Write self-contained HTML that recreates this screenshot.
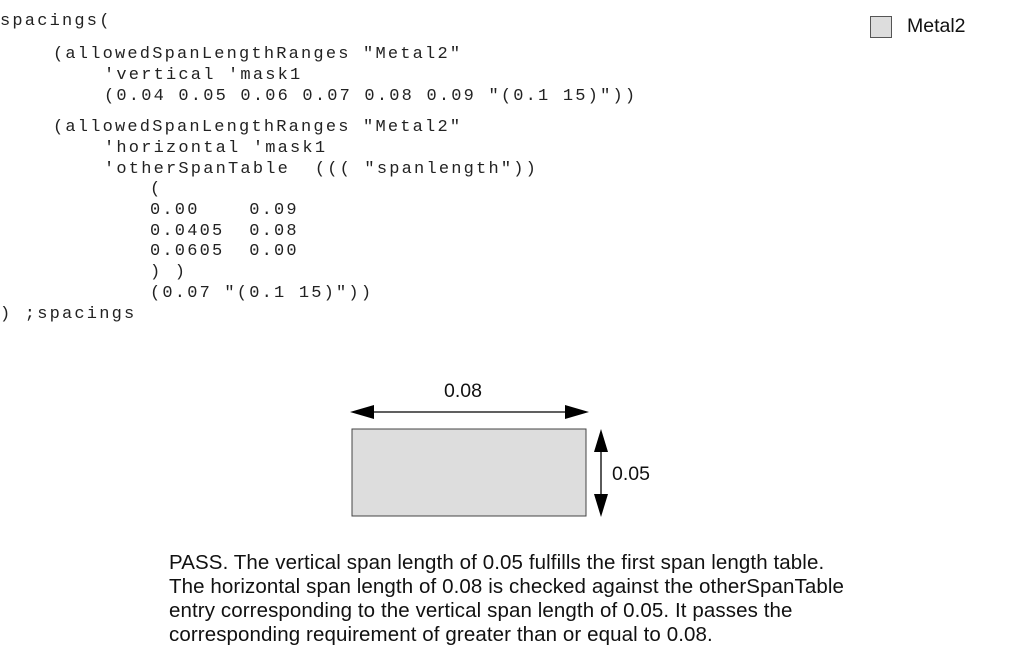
<!DOCTYPE html>
<html><head><style>
body{margin:0;width:1013px;height:664px;background:#fff;position:relative;overflow:hidden}
.c{position:absolute;font-family:"Liberation Mono",monospace;font-size:17px;letter-spacing:2.2px;white-space:pre;color:#222;line-height:20px}
.s{position:absolute;font-family:"Liberation Sans",sans-serif;color:#111;white-space:pre}
</style></head><body>
<div class="c" style="left:0;top:12px">spacings(</div>
<div class="c" style="left:53px;top:45px">(allowedSpanLengthRanges "Metal2"</div>
<div class="c" style="left:104px;top:66px">'vertical 'mask1</div>
<div class="c" style="left:104px;top:87px">(0.04 0.05 0.06 0.07 0.08 0.09 "(0.1 15)"))</div>
<div class="c" style="left:53px;top:118px">(allowedSpanLengthRanges "Metal2"</div>
<div class="c" style="left:104px;top:139px">'horizontal 'mask1</div>
<div class="c" style="left:104px;top:160px">'otherSpanTable  ((( "spanlength"))</div>
<div class="c" style="left:150px;top:180px">(</div>
<div class="c" style="left:150px;top:201px">0.00    0.09</div>
<div class="c" style="left:150px;top:222px">0.0405  0.08</div>
<div class="c" style="left:150px;top:242px">0.0605  0.00</div>
<div class="c" style="left:150px;top:263px">) )</div>
<div class="c" style="left:150px;top:284px">(0.07 "(0.1 15)"))</div>
<div class="c" style="left:0;top:305px">) ;spacings</div>

<div style="position:absolute;left:870px;top:16px;width:20px;height:20px;border:1px solid #555;background:#ddd"></div>
<div class="s" style="left:907px;top:15px;font-size:19.5px">Metal2</div>

<svg style="position:absolute;left:0;top:0" width="1013" height="664">
<rect x="352" y="429" width="234" height="87" fill="#ddd" stroke="#444" stroke-width="1"/>
<line x1="365" y1="412" x2="575" y2="412" stroke="#000" stroke-width="1.3"/>
<polygon points="350,412 374,405 374,419" fill="#000"/>
<polygon points="589,412 565,405 565,419" fill="#000"/>
<line x1="601" y1="440" x2="601" y2="505" stroke="#000" stroke-width="1.3"/>
<polygon points="601,429 594,452 608,452" fill="#000"/>
<polygon points="601,517 594,494 608,494" fill="#000"/>
</svg>
<div class="s" style="left:444px;top:380px;font-size:19.5px">0.08</div>
<div class="s" style="left:612px;top:463px;font-size:19.5px">0.05</div>
<div class="s" style="left:169px;top:551px;font-size:20.5px;letter-spacing:0.1px;line-height:24px">PASS. The vertical span length of 0.05 fulfills the first span length table.
The horizontal span length of 0.08 is checked against the otherSpanTable
entry corresponding to the vertical span length of 0.05. It passes the
corresponding requirement of greater than or equal to 0.08.</div>
</body></html>
